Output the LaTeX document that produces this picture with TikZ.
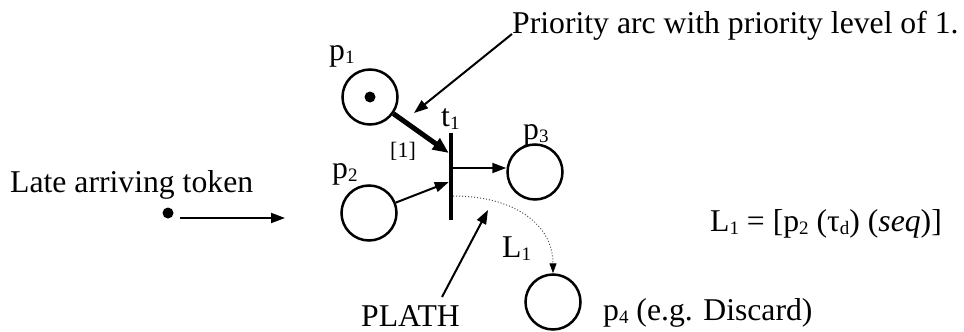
\documentclass[tikz,border=0pt]{standalone}
\usepackage{fontspec}
\setmainfont{Liberation Serif}
\usetikzlibrary{arrows.meta}
\newcommand{\sbs}[1]{\raisebox{-3pt}{\fontsize{19}{19}\selectfont #1}}
\tikzset{
  place/.style={circle, draw, line width=2.5pt, minimum size=55pt, inner sep=0pt},
  tokdot/.style={circle, fill, minimum size=11pt, inner sep=0pt},
  lbl/.style={anchor=base west, inner sep=0pt, font=\fontsize{31.7}{36}\selectfont},
  arr/.style={line width=2pt, -{Triangle[length=14pt,width=10pt]}},
  thickarr/.style={line width=5pt, -{Triangle[length=16pt,width=13pt]}},
  dotarr/.style={line width=1pt, dotted, draw=black!70, -{Triangle[length=10pt,width=7pt,fill=black,color=black]}}
}
\begin{document}
\begin{tikzpicture}[x=1pt,y=-1pt]
\useasboundingbox (0,0) rectangle (964,332);
% places
\node[place] (p1) at (370,97) {};
\node[tokdot] (tk1) at (370,97) {};
\node[place] (p2) at (369,213) {};
\node[place] (p3) at (535,172) {};
\node[place] (p4) at (553,302) {};
% transition
\node[fill, minimum width=4pt, minimum height=87pt, inner sep=0pt] (t1) at (451,176.5) {};
% labels
\node[lbl] (lp1) at (329,60) {p\sbs{1}};
\node[lbl] (lt1) at (441,126) {t\sbs{1}};
\node[lbl] (lp3) at (523,139) {p\sbs{3}};
\node[lbl] (lp2) at (332,178) {p\sbs{2}};
\node[lbl, font=\fontsize{22}{26}\selectfont] (lpr) at (390,157) {[1]};
\node[lbl] (lL1) at (502,257) {L\sbs{1}};
\node[lbl] (plath) at (361,326) {PLATH};
\node[lbl] (lp4) at (603,320) {p\sbs{4} (e.g. Discard)};
\node[lbl] (prio) at (512,34) {Priority arc with priority level of 1.};
\node[lbl] (late) at (10,192) {Late arriving token};
\node[lbl] (eq) at (710,231) {L\sbs{1} = [p\sbs{2} (τ\sbs{d}) (\textit{seq})]};
% late token
\node[tokdot] (tok) at (168,213) {};
\coordinate (lateend) at (285,218);
\coordinate (priotip) at (414,113);
\coordinate (plathtail) at (442,297);
\coordinate (plathtip) at (488,210);
% arcs
\draw[thickarr] (p1) -- ([yshift=23.5pt]t1.west);
\draw[arr] (p2) -- ([yshift=-5.5pt]t1.west);
\draw[arr] ([yshift=8.5pt]t1.east) coordinate (o3) -- (o3 -| p3.west);
\draw[dotarr] ([yshift=-19.5pt]t1.east) .. controls (515,196) and (553,225) .. (p4.north);
% annotations
\draw[arr] (prio.base west) -- (priotip);
\draw[arr] (plathtail) -- (plathtip);
\draw[arr] ([xshift=6pt]tok.east |- lateend) -- (lateend);
\end{tikzpicture}
\end{document}
